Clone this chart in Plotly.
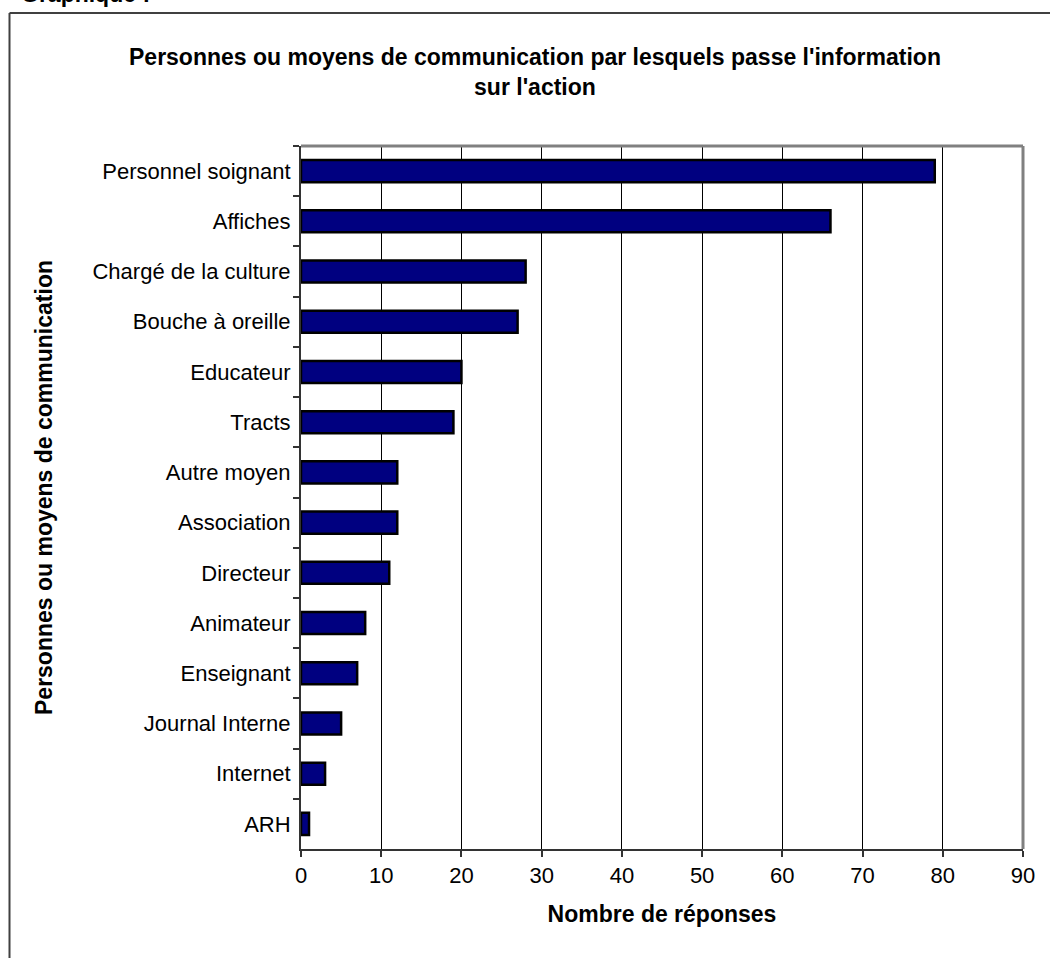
import plotly.graph_objects as go

categories = ["Personnel soignant", "Affiches", "Chargé de la culture", "Bouche à oreille",
              "Educateur", "Tracts", "Autre moyen", "Association", "Directeur", "Animateur",
              "Enseignant", "Journal Interne", "Internet", "ARH"]
values = [79, 66, 28, 27, 20, 19, 12, 12, 11, 8, 7, 5, 3, 1]
x_ticks = [0, 10, 20, 30, 40, 50, 60, 70, 80, 90]

W, H = 1050, 958
L, R, T, B = 301, 1023, 146, 849
pw, ph = R - L, B - T

def px(x):
    return (x - L) / pw

def py(y):
    return 1 - (y - T) / ph

FONT = "Liberation Sans, Arial, sans-serif"

fig = go.Figure(go.Bar(
    x=values, y=categories, orientation="h",
    marker=dict(color="#000080", line=dict(color="#000000", width=2.5)),
    width=0.44,
))

fig.update_layout(
    width=W, height=H,
    margin=dict(l=L, r=W - R, t=T, b=H - B),
    paper_bgcolor="white", plot_bgcolor="white",
    showlegend=False,
    font=dict(family=FONT, size=22, color="black"),
    xaxis=dict(
        range=[0, 90], tickvals=x_ticks, ticks="outside", ticklen=6, tickwidth=1.5,
        tickcolor="#333333", showgrid=True, gridcolor="black", gridwidth=1,
        showline=True, linecolor="#333333", linewidth=2, zeroline=False,
        tickfont=dict(size=22), title=dict(text="<b>Nombre de réponses</b>",
                                           font=dict(size=23), standoff=18),
    ),
    yaxis=dict(
        autorange="reversed", tickson="boundaries", ticks="outside", ticklen=6,
        tickwidth=1.5, tickcolor="#333333", showgrid=False, showline=True,
        linecolor="#333333", linewidth=2, tickfont=dict(size=22), ticklabelstandoff=4,
    ),
    shapes=[
        dict(type="line", xref="paper", yref="paper", x0=0, x1=1, y0=1, y1=1,
             line=dict(color="#808080", width=3), layer="above"),
        dict(type="line", xref="paper", yref="paper", x0=1, x1=1, y0=0, y1=1,
             line=dict(color="#808080", width=3), layer="above"),
        dict(type="line", xref="paper", yref="paper", x0=px(9.5), x1=px(1055), y0=py(13), y1=py(13),
             line=dict(color="#404040", width=2)),
        dict(type="line", xref="paper", yref="paper", x0=px(9.5), x1=px(9.5), y0=py(13), y1=py(965),
             line=dict(color="#404040", width=2)),
    ],
    annotations=[
        dict(text="<b>Personnes ou moyens de communication par lesquels passe l'information<br>sur l'action</b>",
             xref="paper", yref="paper", x=px(535), y=py(72), xanchor="center", yanchor="middle",
             showarrow=False, font=dict(size=23), align="center"),
        dict(text="<b>Personnes ou moyens de communication</b>", textangle=-90,
             xref="paper", yref="paper", x=px(44), y=py(488), xanchor="center", yanchor="middle",
             showarrow=False, font=dict(size=23)),
        dict(text="<b>Graphique :</b>", xref="paper", yref="paper", x=px(19), y=py(-6),
             xanchor="left", yanchor="middle", showarrow=False, font=dict(size=23)),
    ],
)

fig.write_html("out.html", config={"displayModeBar": False},
               post_script="document.body.style.margin='0';document.body.style.overflow='hidden';")
